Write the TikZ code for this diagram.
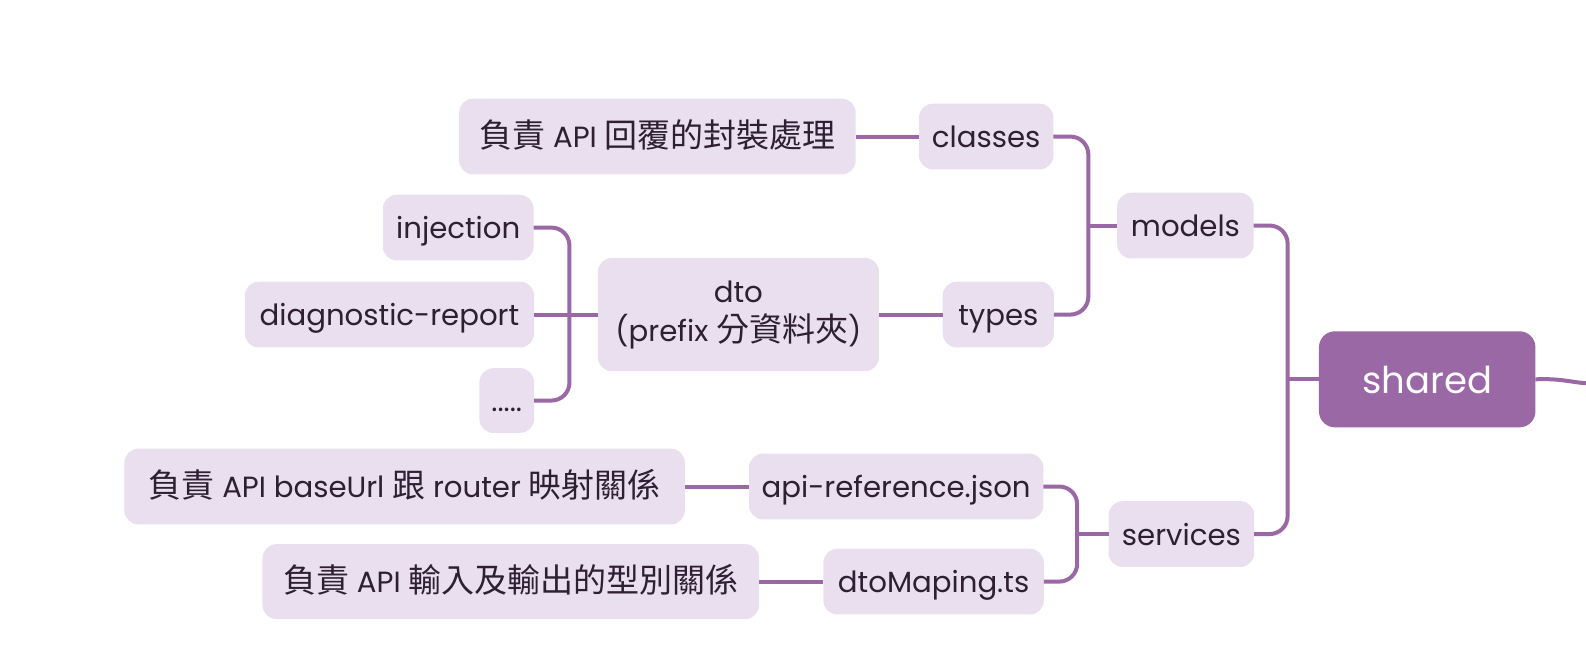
\documentclass[tikz,border=0pt]{standalone}
\usepackage{fontspec}
\setmainfont{Poppins}
\newfontfamily\cjkf[Scale=1.13]{Noto Sans CJK TC}
\newcommand\zh[1]{{\cjkf #1}}
\definecolor{boxfill}{HTML}{E9DFEE}
\definecolor{boxtext}{HTML}{2E1F33}
\definecolor{linec}{HTML}{9A68A5}
\definecolor{rootfill}{HTML}{9A68A5}
\tikzset{
  boxbase/.style={draw=none, fill=boxfill, rounded corners=7pt, inner sep=0pt, outer sep=0pt,
    text=boxtext, font=\fontsize{14.6}{19.5}\selectfont, align=center},
  box/.style={boxbase, text height=11.5pt, text depth=0.5pt},
  rootbox/.style={draw=none, fill=rootfill, rounded corners=8pt, inner sep=0pt, outer sep=0pt,
    text=white, font=\fontsize{18.5}{22}\selectfont, text height=15pt, text depth=1pt},
  w/.style={minimum width=#1*0.50575pt},
  h/.style={minimum height=#1*0.50575pt},
  conn/.style={draw=linec, line width=2pt, rounded corners=9pt},
}
\begin{document}
\begin{tikzpicture}[x=0.50575pt, y=-0.50575pt]
\path[use as bounding box] (0,0) rectangle (1568,649);
% nodes
\node[box, w=392, h=75] (c1) at (650,135) {\zh{負責} API \zh{回覆的封裝處理}};
\node[box, w=133, h=65] (classes) at (975,135) {classes};
\node[box, w=135, h=65] (models) at (1172,223) {models};
\node[box, w=110, h=65] (types) at (987,311) {types};
\node[boxbase, w=278, h=112] (dto) at (730,311) {dto\\(prefix \zh{分資料夾})};
\node[box, w=149, h=65] (inj) at (453,225) {injection};
\node[box, w=286, h=65] (diag) at (385,311) {diagnostic-report};
\node[box, w=54, h=64] (dots) at (501,396) {.....};
\node[rootbox, w=214, h=95] (shared) at (1411,375) {shared};
\node[box, w=144, h=65] (services) at (1168,528) {services};
\node[box, w=291, h=65] (apiref) at (886,481) {api-reference.json};
\node[box, w=554, h=75] (c2) at (400,481) {\zh{負責} API baseUrl \zh{跟} router \zh{映射關係}};
\node[box, w=218, h=65] (dtomap) at (923,575) {dtoMaping.ts};
\node[box, w=491, h=74] (c3) at (505,575) {\zh{負責} API \zh{輸入及輸出的型別關係}};
% bus coordinates
\coordinate (mbus) at (1076,0);
\coordinate (sbus) at (1273,0);
\coordinate (vbus) at (1065,0);
\coordinate (dbus) at (563,0);
\coordinate (rootend) at (1570,379);
% connectors
\draw[conn] (classes.east) -- (classes.east -| mbus) |- (types.east);
\draw[conn] (models.west) -- (models.west -| mbus);
\draw[conn] (models.east) -- (models.east -| sbus) |- (services.east);
\draw[conn] (shared.west) -- (shared.west -| sbus);
\draw[conn] (apiref.east) -- (apiref.east -| vbus) |- (dtomap.east);
\draw[conn] (services.west) -- (services.west -| vbus);
\draw[conn] (inj.east) -- (inj.east -| dbus) |- (dots.east);
\draw[conn] (diag.east) -- (dto.west);
\draw[conn] (c1.east) -- (classes.west);
\draw[conn] (types.west) -- (dto.east);
\draw[conn] (c2.east) -- (apiref.west);
\draw[conn] (c3.east) -- (dtomap.west);
\draw[draw=linec, line width=2pt] (shared.east) .. controls (1545,374) and (1552,378) .. (rootend);
\end{tikzpicture}
\end{document}
